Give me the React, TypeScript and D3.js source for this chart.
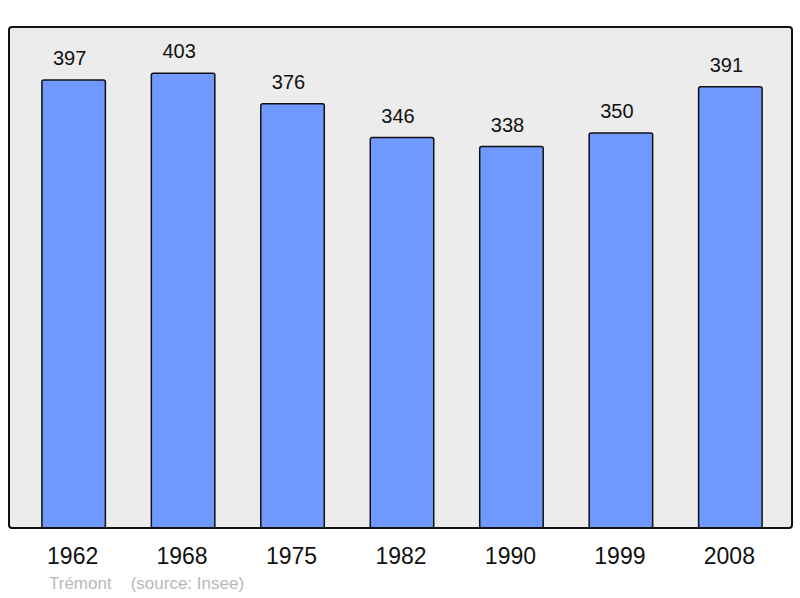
import React from 'react';
import * as d3 from 'd3';

const years = ['1962', '1968', '1975', '1982', '1990', '1999', '2008'];
const population = [397, 403, 376, 346, 338, 350, 391];
const townName = 'Trémont';
const sourceNote = '(source: Insee)';

export default function App() {
  const width = 800;
  const height = 598;
  const panel = { left: 9, top: 27, right: 792, bottom: 528 };

  const x = d3.scaleBand<string>()
    .domain(years)
    .range([20, 784])
    .paddingInner(0.42)
    .paddingOuter(0.2);

  const y = d3.scaleLinear()
    .domain([0, 444])
    .range([panel.bottom, panel.top]);

  const font = '"Liberation Sans", Arial, sans-serif';

  return (
    <svg
      width={width}
      height={height}
      style={{ position: 'absolute', left: 0, top: 0, fontFamily: font }}
    >
      <rect x={0} y={0} width={width} height={height} fill="#ffffff" />
      {/* plot background */}
      <rect
        x={panel.left}
        y={panel.top}
        width={panel.right - panel.left}
        height={panel.bottom - panel.top}
        rx={3}
        fill="#ececec"
        stroke="none"
      />
      {population.map((v, i) => {
        const yr = years[i];
        const bx = x(yr)!;
        const cx = bx + x.bandwidth() / 2;
        return (
          <g key={yr}>
            <rect
              x={bx}
              y={y(v)}
              width={x.bandwidth()}
              height={y(0) - y(v)}
              rx={2}
              fill="#7099ff"
              stroke="#111"
              strokeWidth={1.5}
            />
            <text x={cx - 4} y={y(v) - 15} textAnchor="middle" fontSize={20} fill="#111">
              {v}
            </text>
            <text x={cx - 1} y={564} textAnchor="middle" fontSize={23} fill="#111">
              {yr}
            </text>
          </g>
        );
      })}
      {/* panel border on top of bars */}
      <rect
        x={panel.left}
        y={panel.top}
        width={panel.right - panel.left}
        height={panel.bottom - panel.top}
        rx={3}
        fill="none"
        stroke="#111"
        strokeWidth={2}
      />
      <text x={49} y={589} fontSize={17} fill="#b8b8b8">
        {townName}
        <tspan dx={19}>{sourceNote}</tspan>
      </text>
    </svg>
  );
}
